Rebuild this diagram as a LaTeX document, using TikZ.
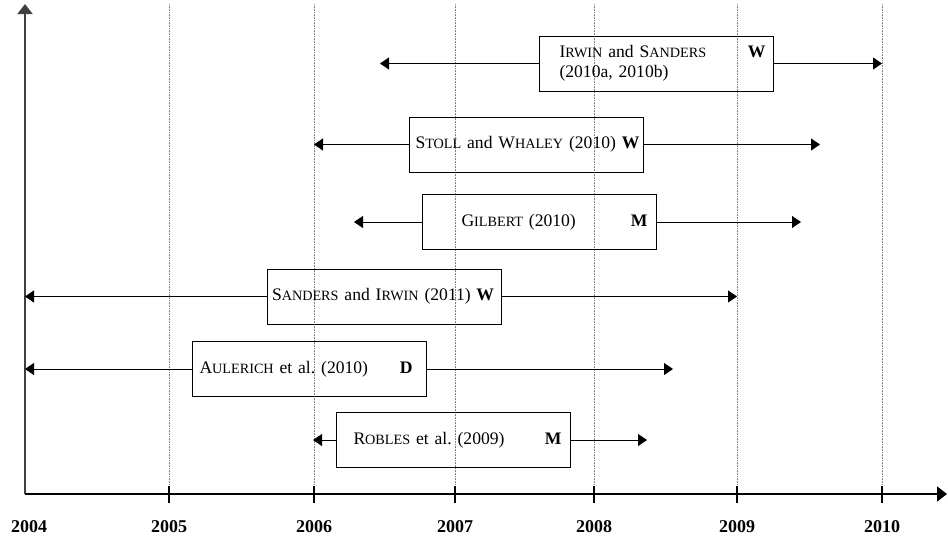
\documentclass[tikz,border=0pt]{standalone}
\usepackage{fontspec}
\setmainfont{Liberation Serif}
\usetikzlibrary{arrows.meta}
\newcommand{\smc}[2]{#1{\fontsize{14.2}{16}\selectfont #2}}
\frenchspacing

\begin{document}
\begin{tikzpicture}[x=1pt, y=-1pt]
        \tikzstyle{paper} = [draw, line width=0.9pt, text width=234pt, minimum height=55pt, inner xsep=0pt, inner ysep=0pt, align=left, font=\fontsize{17.6}{20}\selectfont]
        \tikzstyle{span} = [-{Triangle[length=9pt, width=12pt]}, line width=0.9pt]
        \tikzstyle{axis} = [-{Triangle[length=10pt, width=15pt]}, line width=1.6pt]
        \tikzstyle{grid} = [densely dotted, gray, line width=0.6pt]
        \tikzstyle{tick} = [line width=1.4pt]
        \tikzstyle{year} = [font=\fontsize{18}{20}\selectfont\bfseries]
        \useasboundingbox (0,0) rectangle (948,542);
        % axes
        \coordinate (O) at (25,494);
        \coordinate (ytop) at (25,4);
        \coordinate (xend) at (947,494);
        \node[year] (y2004) at (29,527) {2004};
        \node[year] (y2005) at (169,527) {2005};
        \node[year] (y2006) at (314,527) {2006};
        \node[year] (y2007) at (455,527) {2007};
        \node[year] (y2008) at (594,527) {2008};
        \node[year] (y2009) at (737,527) {2009};
        \node[year] (y2010) at (882,527) {2010};
        \path[grid]
        (y2005 |- ytop) edge (y2005 |- O)
        (y2006 |- ytop) edge (y2006 |- O)
        (y2007 |- ytop) edge (y2007 |- O)
        (y2008 |- ytop) edge (y2008 |- O)
        (y2009 |- ytop) edge (y2009 |- O)
        (y2010 |- ytop) edge (y2010 |- O);
        \path[tick]
        ([yshift=8pt]y2005 |- O) edge ([yshift=-9pt]y2005 |- O)
        ([yshift=8pt]y2006 |- O) edge ([yshift=-9pt]y2006 |- O)
        ([yshift=8pt]y2007 |- O) edge ([yshift=-9pt]y2007 |- O)
        ([yshift=8pt]y2008 |- O) edge ([yshift=-9pt]y2008 |- O)
        ([yshift=8pt]y2009 |- O) edge ([yshift=-9pt]y2009 |- O)
        ([yshift=8pt]y2010 |- O) edge ([yshift=-9pt]y2010 |- O);
        \draw[axis, black!75] (O) -- (ytop);
        \draw[axis] (O) -- (xend);
        % studies
        \node[paper] (irwin) at (656.5,63.5) {\hspace*{20pt}\mbox{\smc{I}{RWIN} and \smc{S}{ANDERS}}\nobreak\hfill\textbf{W}\hspace*{8pt}\mbox{}\\ \hspace*{20pt}(2010a, 2010b)};
        \node[paper] (stoll) at (526.5,144.5) {\hspace*{6pt}\mbox{\smc{S}{TOLL} and \smc{W}{HALEY} (2010)}~\hfill\textbf{W}\hspace*{6pt}\mbox{}};
        \node[paper] (gilbert) at (539.5,222) {\hspace*{39pt}\mbox{\smc{G}{ILBERT} (2010)}\nobreak\hfill\textbf{M}\hspace*{9pt}\mbox{}};
        \node[paper] (sanders) at (384,296.5) {\hspace*{5pt}\mbox{\smc{S}{ANDERS} and \smc{I}{RWIN} (2011)}\nobreak\hfill\textbf{W}\hspace*{7pt}\mbox{}};
        \node[paper] (aulerich) at (309.5,369) {\hspace*{7pt}\mbox{\smc{A}{ULERICH} et al. (2010)}\nobreak\hfill\textbf{D}\hspace*{14pt}\mbox{}};
        \node[paper] (robles) at (453.5,440) {\hspace*{17pt}\mbox{\smc{R}{OBLES} et al. (2009)}\nobreak\hfill\textbf{M}\hspace*{9pt}\mbox{}};
        \coordinate (irwinL) at (380,63.5);
        \coordinate (irwinR) at (882,63.5);
        \coordinate (stollL) at (314,144.5);
        \coordinate (stollR) at (820,144.5);
        \coordinate (gilbertL) at (354,222);
        \coordinate (gilbertR) at (801,222);
        \coordinate (sandersL) at (25,296.5);
        \coordinate (sandersR) at (737,296.5);
        \coordinate (aulerichL) at (25,369);
        \coordinate (aulerichR) at (673,369);
        \coordinate (roblesL) at (313,440);
        \coordinate (roblesR) at (647,440);
        \path[span]
        (irwin) edge (irwinL)
        (irwin) edge (irwinR)
        (stoll) edge (stollL)
        (stoll) edge (stollR)
        (gilbert) edge (gilbertL)
        (gilbert) edge (gilbertR)
        (sanders) edge (sandersL)
        (sanders) edge (sandersR)
        (aulerich) edge (aulerichL)
        (aulerich) edge (aulerichR)
        (robles) edge (roblesL)
        (robles) edge (roblesR);
\end{tikzpicture}
\end{document}
